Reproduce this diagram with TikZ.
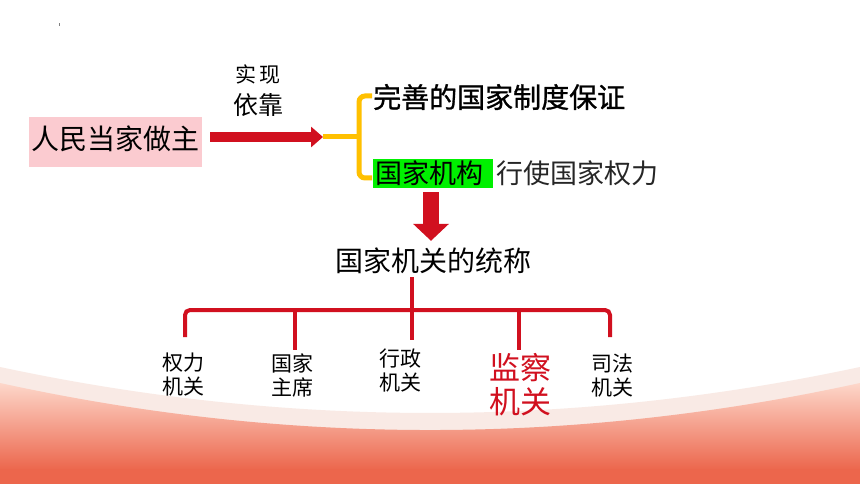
\documentclass[tikz,border=0pt]{standalone}
\usepackage{fontspec}
\setmainfont{Noto Sans CJK SC}
\newfontfamily\heavycjk[FakeBold=1]{Noto Sans CJK SC}
\usetikzlibrary{arrows.meta}
\definecolor{cred}{HTML}{D1101F}
\definecolor{cpink}{HTML}{FBCBD0}
\definecolor{corange}{HTML}{FFC000}
\definecolor{cgreen}{HTML}{00F000}
\definecolor{cpale}{HTML}{F9EAE5}
\definecolor{gtop}{HTML}{FDD7CA}
\definecolor{gbot}{HTML}{EC664C}
\tikzset{
  redarrow/.style={cred, line width=10pt, -{Triangle[length=12pt,width=20pt]}},
  downarrow/.style={cred, line width=16pt, -{Triangle[length=17pt,width=35pt]}},
  bracketline/.style={corange, line width=5pt, rounded corners=6pt},
  treeline/.style={cred, line width=4pt, rounded corners=5pt},
  lab/.style={inner sep=0pt, align=center, font=\fontsize{21}{24}\selectfont},
}
\begin{document}
\begin{tikzpicture}[x=1pt,y=-1pt]
\useasboundingbox (0,0) rectangle (860,484);
\fill[white] (0,0) rectangle (860,484);
% background bands
\fill[cpale] (0,367) .. controls (286.7,428.3) and (573.3,428.3) .. (860,367) -- (860,484) -- (0,484) -- cycle;
\begin{scope}
  \clip (0,383) .. controls (286.7,445.7) and (573.3,445.7) .. (860,383) -- (860,484) -- (0,484) -- cycle;
  \shade[top color=gtop, bottom color=gbot] (0,383) rectangle (860,470);
  \fill[gbot] (0,469) rectangle (860,484);
\end{scope}
\fill[gray] (58.6,23.5) rectangle (59.6,26.5);

% left box
\node[fill=cpink, minimum width=173pt, minimum height=50pt, inner sep=0pt] (people) at (115.5,142) {};
\node[inner sep=0pt, font=\fontsize{28}{30}\selectfont] (peopletext) at (115,139) {人民当家做主};
\node[inner sep=0pt, font=\fontsize{21}{24}\selectfont] (shixian) at (258,74) {实\hspace{3pt}现};
\node[inner sep=0pt, font=\fontsize{25}{28}\selectfont] (yikao) at (258,105) {依靠};

\coordinate (brk) at (323,137);
\draw[redarrow] ([xshift=8pt]people.east |- brk) -- (brk);

% bracket
\draw[bracketline] (323,137) -- (359,137);
\draw[bracketline] (372,96) -- (359,96) -- (359,178) -- (372,178);

\node[anchor=west, inner sep=0pt, font=\fontsize{28}{30}\heavycjk] (baozheng) at (373,97) {完善的国家制度保证};
\node[anchor=west, fill=cgreen, inner xsep=2pt, inner ysep=0pt, minimum height=29pt, font=\fontsize{27}{29}\selectfont] (jigou) at (373,173.5) {\makebox[116pt][l]{国家机构}};
\node[anchor=west, inner sep=0pt, text=black!85, font=\fontsize{27}{29}\selectfont] (xingshi) at (496,173) {行使国家权力};

\node[inner sep=0pt, font=\fontsize{28}{30}\selectfont] (tongcheng) at (433,261) {国家机关的统称};
\coordinate (arrx) at (431,0);
\draw[downarrow] ([yshift=-4pt]arrx |- jigou.south) -- ([yshift=7pt]arrx |- tongcheng.north);

% tree
\coordinate (hub) at (412,310);
\draw[treeline] ([yshift=-3pt]hub |- tongcheng.south) -- (hub);
\coordinate (b1) at (185,337);
\coordinate (b2) at (295,350);
\coordinate (b3) at (412,340);
\coordinate (b4) at (519,350);
\coordinate (b5) at (610,337);
\draw[treeline] (b1) -- (b1 |- hub) -- (b5 |- hub) -- (b5);
\draw[treeline] (b2 |- hub) -- (b2);
\draw[treeline] (hub) -- (b3);
\draw[treeline] (b4 |- hub) -- (b4);

\node[lab] (l1) at (183,375) {权力\\机关};
\node[lab] (l2) at (292,375) {国家\\主席};
\node[lab] (l3) at (400,371) {行政\\机关};
\node[lab, text=cred, font=\fontsize{31}{34}\selectfont] (l4) at (520,385) {监察\\机关};
\node[lab] (l5) at (612,376) {司法\\机关};
\end{tikzpicture}
\end{document}
